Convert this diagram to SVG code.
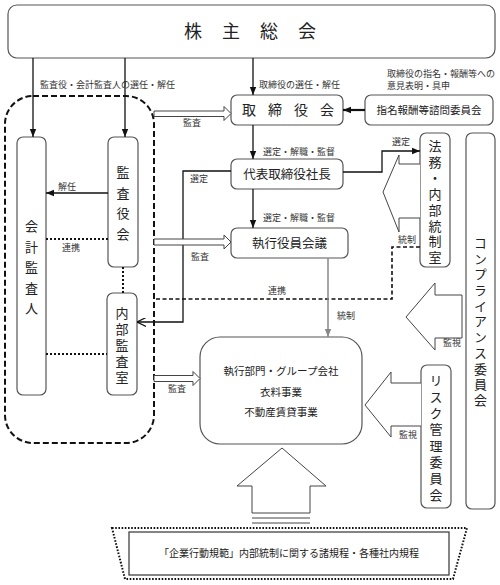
<svg xmlns="http://www.w3.org/2000/svg" width="500" height="585" viewBox="0 0 500 585">
<style>
text{font-family:"Noto Sans CJK JP","Noto Sans CJK SC",sans-serif;fill:#222}
.box{fill:#fff;stroke:#555;stroke-width:1.2}
.lbl{font-size:9px;fill:#333}
.v{font-size:13px;text-anchor:middle;writing-mode:vertical-rl;text-orientation:upright}
.c{text-anchor:middle}
.ln{stroke:#111;stroke-width:1.3;fill:none}
.hol{fill:#fff;stroke:#444;stroke-width:1}
.dot{stroke:#111;stroke-width:2;stroke-dasharray:2 2;fill:none}
</style>
<defs>
<marker id="ah" viewBox="0 0 10 10" refX="10" refY="5" markerWidth="8" markerHeight="8" markerUnits="userSpaceOnUse" orient="auto"><path d="M0,1 L10,5 L0,9 z" fill="#111"/></marker>
<marker id="ahg" viewBox="0 0 10 10" refX="10" refY="5" markerWidth="8" markerHeight="8" markerUnits="userSpaceOnUse" orient="auto"><path d="M0,1 L10,5 L0,9 z" fill="#888"/></marker>
<marker id="ao" viewBox="0 0 10 10" refX="10" refY="5" markerWidth="9" markerHeight="9" markerUnits="userSpaceOnUse" orient="auto"><path d="M0,0 L10,5 L0,10" fill="none" stroke="#111" stroke-width="1.3"/></marker>
</defs>

<g id="audit-group">
<rect x="5" y="96" width="149" height="347" rx="28" fill="none" stroke="#111" stroke-width="2" stroke-dasharray="6 3"/>
</g>

<g id="shareholders">
<rect class="box" x="8" y="5" width="487" height="53" rx="9"/>
<text x="193" y="38" font-size="18" class="c">株</text>
<text x="231" y="38" font-size="18" class="c">主</text>
<text x="269" y="38" font-size="18" class="c">総</text>
<text x="307" y="38" font-size="18" class="c">会</text>
</g>

<g id="board">
<rect class="box" x="231" y="95" width="112" height="30" rx="6"/>
<text x="249" y="115" font-size="14" class="c">取</text>
<text x="275" y="115" font-size="14" class="c">締</text>
<text x="301" y="115" font-size="14" class="c">役</text>
<text x="327" y="115" font-size="14" class="c">会</text>
</g>

<g id="nomination">
<rect class="box" x="365" y="95" width="128" height="30" rx="6"/>
<text x="429" y="114" font-size="10.5" class="c">指名報酬等諮問委員会</text>
</g>

<g id="ceo">
<rect class="box" x="231" y="159" width="112" height="30" rx="6"/>
<text x="287" y="179" font-size="12.5" class="c">代表取締役社長</text>
</g>

<g id="exec-officers">
<rect class="box" x="231" y="228" width="117" height="30" rx="6"/>
<text x="289.5" y="248" font-size="12.5" class="c">執行役員会議</text>
</g>

<g id="auditor">
<rect class="box" x="17" y="137" width="29" height="258" rx="6"/>
<text x="31.5" y="226" class="v">会</text>
<text x="31.5" y="247" class="v">計</text>
<text x="31.5" y="267" class="v">監</text>
<text x="31.5" y="288" class="v">査</text>
<text x="31.5" y="308" class="v">人</text>
</g>

<g id="audit-board">
<rect class="box" x="108" y="137" width="30" height="130" rx="6"/>
<text x="123" y="172" class="v">監</text>
<text x="123" y="193" class="v">査</text>
<text x="123" y="213" class="v">役</text>
<text x="123" y="234" class="v">会</text>
</g>

<g id="internal-audit">
<rect class="box" x="107" y="293" width="30" height="102" rx="6"/>
<text x="122" y="313" class="v" font-size="12.5">内</text>
<text x="122" y="329" class="v" font-size="12.5">部</text>
<text x="122" y="345" class="v" font-size="12.5">監</text>
<text x="122" y="361" class="v" font-size="12.5">査</text>
<text x="122" y="377" class="v" font-size="12.5">室</text>
</g>

<g id="legal">
<rect class="box" x="420" y="133" width="30" height="134" rx="6"/>
<text x="435" y="146" class="v">法</text>
<text x="435" y="162" class="v">務</text>
<text x="435" y="178" class="v">・</text>
<text x="435" y="194" class="v">内</text>
<text x="435" y="210" class="v">部</text>
<text x="435" y="226" class="v">統</text>
<text x="435" y="241" class="v">制</text>
<text x="435" y="257" class="v">室</text>
</g>

<g id="compliance">
<rect class="box" x="466" y="133" width="29" height="376" rx="6"/>
<text x="480.5" y="243" class="v">コ</text>
<text x="480.5" y="258.7" class="v">ン</text>
<text x="480.5" y="274.4" class="v">プ</text>
<text x="480.5" y="290.1" class="v">ラ</text>
<text x="480.5" y="305.8" class="v">イ</text>
<text x="480.5" y="321.5" class="v">ア</text>
<text x="480.5" y="337.2" class="v">ン</text>
<text x="480.5" y="352.9" class="v">ス</text>
<text x="480.5" y="368.6" class="v">委</text>
<text x="480.5" y="384.3" class="v">員</text>
<text x="480.5" y="400" class="v">会</text>
</g>

<g id="risk">
<rect class="box" x="421" y="365" width="30" height="143" rx="6"/>
<text x="436" y="380" class="v">リ</text>
<text x="436" y="397" class="v">ス</text>
<text x="436" y="413" class="v">ク</text>
<text x="436" y="429" class="v">管</text>
<text x="436" y="446" class="v">理</text>
<text x="436" y="462" class="v">委</text>
<text x="436" y="478" class="v">員</text>
<text x="436" y="495" class="v">会</text>
</g>

<g id="operations">
<rect class="box" x="200" y="337" width="162" height="107" rx="20"/>
<text x="281" y="375" font-size="10.5" class="c">執行部門・グループ会社</text>
<text x="281" y="396" font-size="10.5" class="c">衣料事業</text>
<text x="281" y="416" font-size="10.5" class="c">不動産賃貸事業</text>
</g>

<g id="regulations">
<polygon points="112,528 467,528 453,579 125,579" fill="none" stroke="#111" stroke-width="2" stroke-dasharray="1.6 1.6"/>
<rect x="129" y="532" width="320" height="43" fill="#fff" stroke="#333" stroke-width="1.2"/>
<text x="289" y="557" font-size="10" class="c">「企業行動規範」内部統制に関する諸規程・各種社内規程</text>
</g>

<g id="connectors">
<line class="ln" x1="33" y1="58" x2="33" y2="137" marker-end="url(#ah)"/>
<line class="ln" x1="125" y1="58" x2="125" y2="137" marker-end="url(#ah)"/>
<line class="ln" x1="253" y1="58" x2="253" y2="95" marker-end="url(#ah)"/>
<line x1="365" y1="110" x2="343" y2="110" stroke="#111" stroke-width="2.2" marker-end="url(#ah)"/>
<line class="ln" x1="253" y1="125" x2="253" y2="159" marker-end="url(#ah)"/>
<line class="ln" x1="253" y1="189" x2="253" y2="228" marker-end="url(#ah)"/>
<line class="ln" x1="108" y1="193" x2="46" y2="193" marker-end="url(#ah)"/>
<line class="dot" x1="46" y1="239" x2="108" y2="239"/>
<line class="dot" x1="123" y1="267" x2="123" y2="293"/>
<line class="dot" x1="46" y1="354" x2="107" y2="354"/>
<path class="ln" d="M231,171 H183 V322 H137" marker-end="url(#ao)"/>
<path class="ln" d="M343,172 H382 V151 H420" marker-end="url(#ah)"/>
<path d="M420,247 H392 V299 H154" fill="none" stroke="#111" stroke-width="1.6" stroke-dasharray="4 2.5"/>
<line x1="328" y1="258" x2="328" y2="337" stroke="#888" stroke-width="1.5" marker-end="url(#ahg)"/>
<polygon class="hol" points="154,111 224,111 224,106.5 231,113.5 224,120.5 224,116.5 154,116.5"/>
<polygon class="hol" points="154,239 224,239 224,235 231,242 224,249 224,245 154,245"/>
<polygon class="hol" points="154,375.5 193,375.5 193,371.5 200,378.5 193,385.5 193,381.5 154,381.5"/>
<polyline class="hol" points="420,164 399,164 399,155 383,192 399,232 399,218 420,218"/>
<polygon class="hol" points="462,295 435,295 435,283 406,317 435,350 435,338 462,338"/>
<polyline class="hol" points="421,383 391,383 391,372 365,405 391,437 391,426 421,426"/>
<polygon class="hol" points="252,513 252,486 237,486 282,448 326,486 310,486 310,513"/>
<line x1="252" y1="518" x2="310" y2="518" stroke="#444" stroke-width="1"/>
<line x1="252" y1="523" x2="310" y2="523" stroke="#444" stroke-width="1"/>
</g>

<g id="labels">
<text class="lbl" x="40" y="87.5" font-size="9.2">監査役・会計監査人の選任・解任</text>
<text class="lbl" x="259" y="87.5" font-size="9.1">取締役の選任・解任</text>
<text class="lbl" x="387" y="77" font-size="7.8">取締役の指名・報酬等への</text>
<text class="lbl" x="387" y="89" font-size="7.8">意見表明・具申</text>
<text class="lbl" x="183" y="126">監査</text>
<text class="lbl" x="263" y="155">選定・解職・監督</text>
<text class="lbl" x="190" y="182">選定</text>
<text class="lbl" x="58" y="190">解任</text>
<text class="lbl" x="62" y="251">連携</text>
<text class="lbl" x="191" y="260">監査</text>
<text class="lbl" x="263" y="221">選定・解職・監督</text>
<text class="lbl" x="392" y="145" font-size="8.5">選定</text>
<text class="lbl" x="398" y="243" font-size="8.5">統制</text>
<text class="lbl" x="268" y="294">連携</text>
<text class="lbl" x="337" y="319">統制</text>
<text class="lbl" x="443" y="346" font-size="8.5">監視</text>
<text class="lbl" x="399" y="438" font-size="8.5">監視</text>
<text class="lbl" x="168" y="392">監査</text>
</g>
</svg>
